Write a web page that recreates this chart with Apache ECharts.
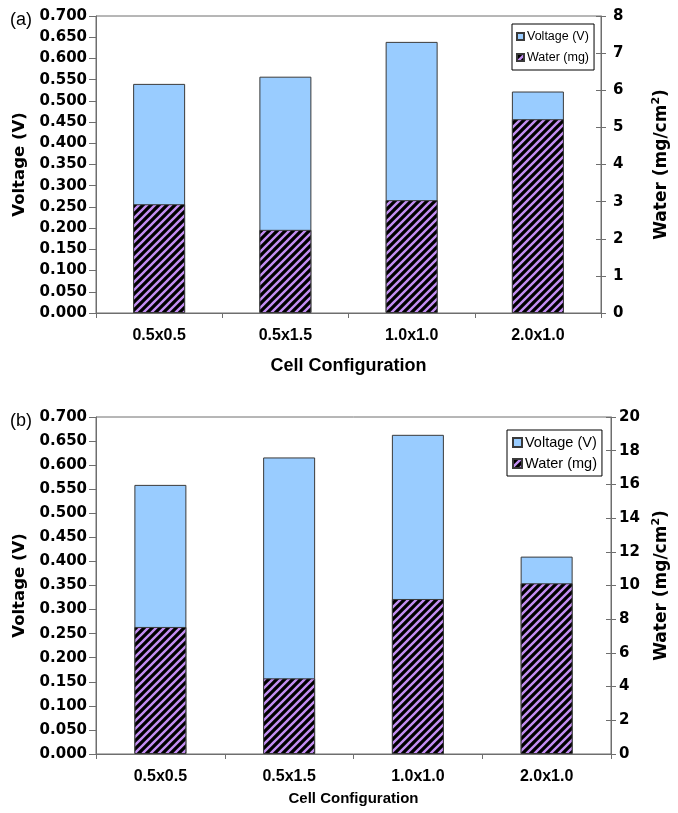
<!DOCTYPE html>
<html>
<head>
<meta charset="utf-8">
<script src="https://cdn.jsdelivr.net/npm/echarts@6/dist/echarts.min.js"></script>
<style>html,body{margin:0;padding:0;background:#fff}#c{width:678px;height:813px}</style>
</head>
<body>
<div id="c"></div>
<script>
// ---- data ----
var categories = ['0.5x0.5', '0.5x1.5', '1.0x1.0', '2.0x1.0'];
var voltageA = [0.540, 0.557, 0.639, 0.522];
var waterA = [2.93, 2.24, 3.04, 5.22];
var voltageB = [0.559, 0.616, 0.663, 0.410];
var waterB = [7.54, 4.49, 9.20, 10.13];
var voltageAxis = {min: 0, max: 0.7, interval: 0.05};
var waterAxisA = {min: 0, max: 8, interval: 1};
var waterAxisB = {min: 0, max: 20, interval: 2};
var seriesNames = ['Voltage (V)', 'Water (mg)'];

// ---- styles ----
function makePattern() {
  var s = 8;
  var cv = document.createElement('canvas');
  cv.width = s; cv.height = s;
  var g = cv.getContext('2d');
  g.fillStyle = '#000';
  g.fillRect(0, 0, s, s);
  g.strokeStyle = '#c38ef2';
  g.lineWidth = 2.4;
  g.beginPath();
  g.moveTo(-1, s + 1); g.lineTo(s + 1, -1);
  g.moveTo(-s / 2 - 1, s / 2 + 1); g.lineTo(s / 2 + 1, -s / 2 - 1);
  g.moveTo(s / 2 - 1, s * 1.5 + 1); g.lineTo(s * 1.5 + 1, s / 2 - 1);
  g.stroke();
  return {image: cv, repeat: 'repeat'};
}
var stripe = makePattern();
var blue = '#99ccff';
var edge = '#3a3a3a';
var axisGray = '#6e6e6e';
var tickFont = {fontFamily: 'DejaVu Sans', fontWeight: 'bold', fontSize: 15, color: '#000'};
var catFont = {fontFamily: 'Liberation Sans', fontWeight: 'bold', fontSize: 16, color: '#000'};

function leftAxis(grid, gap) {
  return {
    type: 'value', gridIndex: grid, position: 'left',
    min: voltageAxis.min, max: voltageAxis.max, interval: voltageAxis.interval,
    name: 'Voltage (V)', nameLocation: 'middle', nameRotate: 90, nameGap: gap,
    nameTextStyle: {fontFamily: 'DejaVu Sans', fontWeight: 'bold', fontSize: 16.5, color: '#000'},
    axisLine: {show: true, lineStyle: {color: axisGray, width: 1}},
    axisTick: {show: true, length: 7, lineStyle: {color: axisGray}},
    axisLabel: Object.assign({margin: 9, formatter: function (v) { return v.toFixed(3); }}, tickFont),
    splitLine: {show: false}
  };
}
function rightAxis(grid, ax, gap, margin) {
  return {
    type: 'value', gridIndex: grid, position: 'right',
    min: ax.min, max: ax.max, interval: ax.interval,
    name: '{t|Water (mg/cm}{s|2}{t|)}', nameLocation: 'middle', nameRotate: 90, nameGap: gap,
    nameTextStyle: {rich: {
      t: {fontFamily: 'DejaVu Sans', fontWeight: 'bold', fontSize: 17, color: '#000'},
      s: {fontFamily: 'DejaVu Sans', fontWeight: 'bold', fontSize: 11, color: '#000', padding: [0, 0, 10, 0]}
    }},
    axisLine: {show: true, lineStyle: {color: axisGray, width: 1}},
    axisTick: {show: true, length: 5, lineStyle: {color: axisGray}},
    axisLabel: Object.assign({margin: margin}, tickFont),
    splitLine: {show: false}
  };
}
function innerTicks(grid, ax) {
  return {
    type: 'value', gridIndex: grid, position: 'right',
    min: ax.min, max: ax.max, interval: ax.interval,
    axisLine: {show: false},
    axisTick: {show: true, inside: true, length: 5, lineStyle: {color: axisGray}},
    axisLabel: {show: false}, splitLine: {show: false}
  };
}
function catAxis(grid, gap, nameSize) {
  return {
    type: 'category', gridIndex: grid, data: categories,
    name: 'Cell Configuration', nameLocation: 'middle', nameGap: gap,
    nameTextStyle: {fontFamily: 'Liberation Sans', fontWeight: 'bold', fontSize: nameSize, color: '#000'},
    axisLine: {show: true, lineStyle: {color: axisGray, width: 1}},
    axisTick: {show: true, length: 5, alignWithLabel: false, lineStyle: {color: axisGray}},
    axisLabel: Object.assign({margin: 15}, catFont),
    splitLine: {show: false}
  };
}
function legend(idx, left, top, fs, icon, gap, pad) {
  return {
    seriesIndex: idx,
    data: seriesNames, orient: 'vertical', left: left, top: top,
    backgroundColor: '#fff', borderColor: '#000', borderWidth: 1, borderRadius: 0,
    padding: pad, itemGap: gap, itemWidth: icon, itemHeight: icon,
    icon: 'rect', selectedMode: false,
    textStyle: {fontFamily: 'Liberation Sans', fontSize: fs, color: '#000', padding: [0, 0, 0, -2]}
  };
}

var chart = echarts.init(document.getElementById('c'), null, {renderer: 'canvas'});
chart.setOption({
  animation: false,
  backgroundColor: '#fff',
  title: [
    {text: '(a)', left: 5, top: 6, textStyle: {fontFamily: 'Liberation Sans', fontWeight: 'normal', fontSize: 18, color: '#000'}},
    {text: '(b)', left: 5, top: 407, textStyle: {fontFamily: 'Liberation Sans', fontWeight: 'normal', fontSize: 18, color: '#000'}}
  ],
  grid: [
    {left: 96, top: 16, width: 506, height: 297, show: true, borderColor: axisGray, borderWidth: 1, backgroundColor: 'transparent'},
    {left: 96, top: 417, width: 520, height: 337, show: true, borderColor: axisGray, borderWidth: 1, backgroundColor: 'transparent'}
  ],
  legend: [
    legend(0, 512, 24, 12.5, 7, 8, [6, 5, 6, 4]),
    legend(2, 507, 430, 14.5, 9, 6, [5, 5, 5, 5])
  ],
  xAxis: [catAxis(0, 44, 18), catAxis(1, 37, 15)],
  yAxis: [
    leftAxis(0, 66), rightAxis(0, waterAxisA, 50, 12),
    leftAxis(1, 66), rightAxis(1, waterAxisB, 40, 8),
    innerTicks(0, waterAxisA), innerTicks(1, waterAxisB)
  ],
  series: [
    {name: seriesNames[0], type: 'bar', xAxisIndex: 0, yAxisIndex: 0, data: voltageA, barWidth: 52, barGap: '-100%',
     itemStyle: {color: blue, borderColor: edge, borderWidth: 1}},
    {name: seriesNames[1], type: 'bar', xAxisIndex: 0, yAxisIndex: 1, data: waterA, barWidth: 52, barGap: '-100%',
     itemStyle: {color: stripe, borderColor: edge, borderWidth: 1}},
    {name: seriesNames[0], type: 'bar', xAxisIndex: 1, yAxisIndex: 2, data: voltageB, barWidth: 52, barGap: '-100%',
     itemStyle: {color: blue, borderColor: edge, borderWidth: 1}},
    {name: seriesNames[1], type: 'bar', xAxisIndex: 1, yAxisIndex: 3, data: waterB, barWidth: 52, barGap: '-100%',
     itemStyle: {color: stripe, borderColor: edge, borderWidth: 1}}
  ]
});
</script>
</body>
</html>
